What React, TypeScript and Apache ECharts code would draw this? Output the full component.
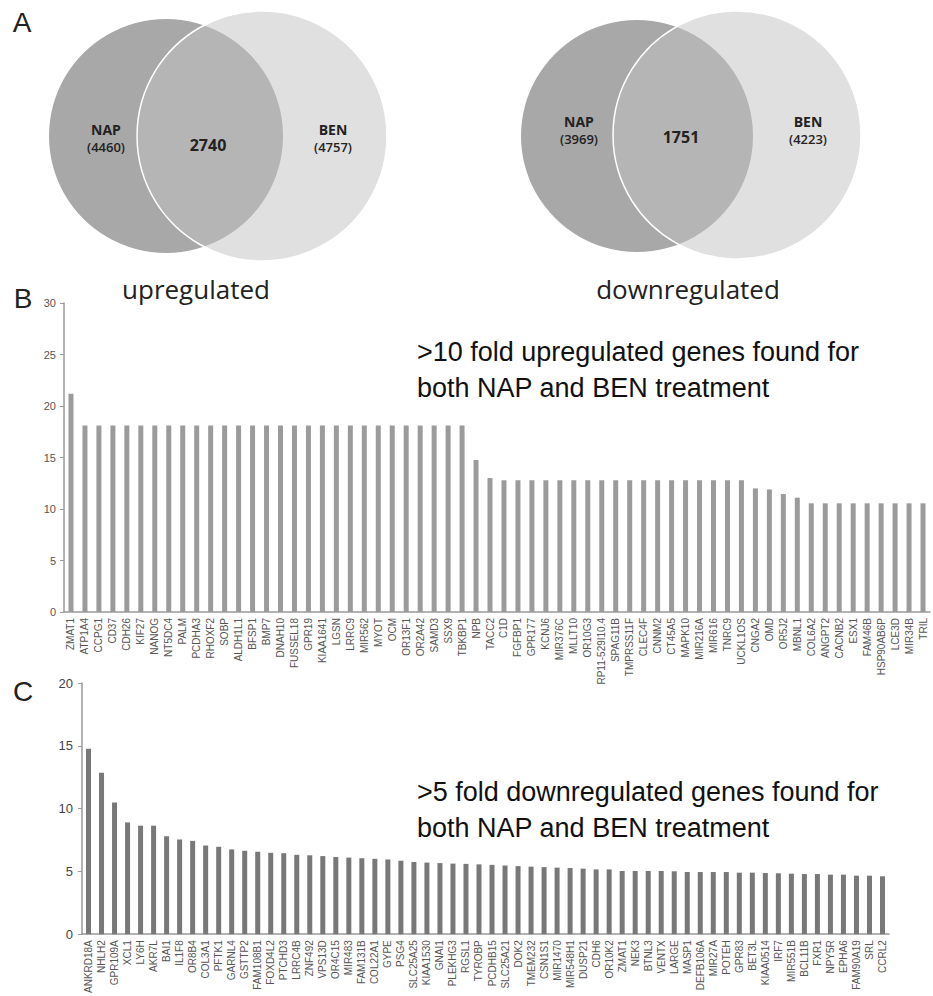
import React, { useEffect, useRef } from "react";
import * as echarts from "echarts";

const upGenes = ["ZMAT1","ATP1A4","CCPG1","CD37","CDH26","KIF27","NANOG","NT5DC4","PALM","PCDHA3","RHOXF2","SOBP","ALDH1L1","BFSP1","BMP7","DNAH10","FUSSEL18","GPR19","KIAA1641","LGSN","LRRC9","MIR562","MYOT","OCM","OR13F1","OR2A42","SAMD3","SSX9","TBKBP1","NPB","TACC2","C1D","FGFBP1","GPR177","KCNJ6","MIR376C","MLLT10","OR10G3","RP11-529I10.4","SPAG11B","TMPRSS11F","CLEC4F","CNNM2","CT45A5","MAPK10","MIR216A","MIR616","TNRC9","UCKL1OS","CNGA2","OMD","OR5J2","MBNL1","COL6A2","ANGPT2","CACNB2","ESX1","FAM46B","HSP90AB6P","LCE3D","MIR34B","TRIL"];
const upValues = [21.2,18.1,18.1,18.1,18.1,18.1,18.1,18.1,18.1,18.1,18.1,18.1,18.1,18.1,18.1,18.1,18.1,18.1,18.1,18.1,18.1,18.1,18.1,18.1,18.1,18.1,18.1,18.1,18.1,14.75,13.0,12.8,12.8,12.8,12.8,12.8,12.8,12.8,12.8,12.8,12.8,12.8,12.8,12.8,12.8,12.8,12.8,12.8,12.8,12.0,11.9,11.45,11.1,10.55,10.55,10.55,10.55,10.55,10.55,10.55,10.55,10.55];

const downGenes = ["ANKRD18A","NHLH2","GPR109A","XCL1","LY6H","AKR7L","BAI1","IL1F8","OR8B4","COL3A1","PFTK1","GARNL4","GSTTP2","FAM108B1","FOXD4L2","PTCHD3","LRRC4B","ZNF492","VPS13D","OR4C15","MIR483","FAM131B","COL22A1","GYPE","PSG4","SLC25A25","KIAA1530","GNAI1","PLEKHG3","RGSL1","TYROBP","PCDHB15","SLC25A21","DOK2","TMEM232","CSN1S1","MIR1470","MIR548H1","DUSP21","CDH6","OR10K2","ZMAT1","NEK3","BTNL3","VENTX","LARGE","MASP1","DEFB106A","MIR27A","POTEH","GPR83","BET3L","KIAA0514","IRF7","MIR551B","BCL11B","FXR1","NPY5R","EPHA6","FAM90A19","SRL","CCRL2"];
const downValues = [14.76,12.86,10.49,8.9,8.64,8.64,7.8,7.54,7.43,7.06,6.96,6.75,6.64,6.56,6.48,6.45,6.32,6.28,6.22,6.15,6.1,6.05,6.0,5.95,5.85,5.75,5.7,5.66,5.62,5.6,5.56,5.52,5.47,5.42,5.38,5.34,5.3,5.27,5.22,5.16,5.16,5.03,5.03,5.03,5.03,5.01,4.95,4.95,4.95,4.95,4.9,4.9,4.87,4.85,4.82,4.79,4.79,4.74,4.74,4.66,4.66,4.61];

const vennUp = { nap: 4460, both: 2740, ben: 4757, label: "upregulated" };
const vennDown = { nap: 3969, both: 1751, ben: 4223, label: "downregulated" };

function vennGraphics(v: any, o: any) {
  const t = (text: string, x: number, y: number, size: number, weight: string) => ({
    type: "text", x, y, z: 10,
    style: { text, fill: "#222", font: `${weight} ${size}px "Open Sans", sans-serif`, textAlign: "center", textVerticalAlign: "middle" },
  });
  return [
    { type: "circle", shape: { cx: o.nx, cy: o.ny, r: o.nr }, style: { fill: "#a8a8a8" }, z: 1 },
    { type: "circle", shape: { cx: o.bx, cy: o.by, r: o.br }, style: { fill: "rgba(193,193,193,0.5)", stroke: "#ffffff", lineWidth: 1.5 }, z: 2 },
    t("NAP", o.tnx, o.ty - 1, 14, "bold"),
    t(`(${v.nap})`, o.tnx, o.ty + 17, 13, "600"),
    t(String(v.both), o.tmx, o.ty + 15, 16, "bold"),
    t("BEN", o.tbx, o.ty - 1, 14, "bold"),
    t(`(${v.ben})`, o.tbx, o.ty + 17, 13, "600"),
    { type: "text", x: o.lx, y: 289, z: 10, style: { text: v.label, fill: "#222", font: '26px "Open Sans", sans-serif', textAlign: "center", textVerticalAlign: "middle" } },
  ];
}

export default function App() {
  const ref = useRef<HTMLDivElement>(null);
  useEffect(() => {
    const chart = echarts.init(ref.current!, null, { renderer: "svg" });
    const axisColor = "#9a9a9a";
    const panelLetter = (text: string, x: number, y: number) => ({
      type: "text", x, y, style: { text, fill: "#222", font: '28px "Liberation Sans", Arial, sans-serif', textAlign: "center", textVerticalAlign: "middle" },
    });
    const titleText = (text: string, x: number, y: number) => ({
      type: "text", x, y, style: { text, fill: "#111", font: '27px "Liberation Sans", Arial, sans-serif', textAlign: "left", textVerticalAlign: "middle" },
    });
    const option: any = {
      animation: false,
      backgroundColor: "#ffffff",
      graphic: [
        panelLetter("A", 22, 22),
        ...vennGraphics(vennUp, { nx: 166, ny: 136, nr: 117, bx: 262, by: 136, br: 125, tnx: 106, tmx: 208, tbx: 333, ty: 130, lx: 196 }),
        ...vennGraphics(vennDown, { nx: 637, ny: 136, nr: 116, bx: 737, by: 135, br: 124, tnx: 579, tmx: 681, tbx: 808, ty: 122, lx: 688 }),
        panelLetter("B", 23, 298),
        panelLetter("C", 23, 691),
        titleText(">10 fold upregulated genes found for", 417, 352),
        titleText("both NAP and BEN treatment", 417, 388),
        titleText(">5 fold downregulated genes found for", 417, 792),
        titleText("both NAP and BEN treatment", 417, 828),
      ],
      grid: [
        { left: 64, width: 866, top: 303, height: 309 },
        { left: 82, width: 807, top: 683, height: 253 },
      ],
      xAxis: [
        {
          gridIndex: 0, type: "category", data: upGenes,
          axisLine: { lineStyle: { color: axisColor, width: 1.5 } },
          axisTick: { length: 4, lineStyle: { color: axisColor } },
          axisLabel: { rotate: 90, interval: 0, fontSize: 10, color: "#555", margin: 6, fontFamily: '"Liberation Sans", Arial, sans-serif' },
        },
        {
          gridIndex: 1, type: "category", data: downGenes,
          axisLine: { lineStyle: { color: axisColor, width: 1.5 } },
          axisTick: { length: 4, lineStyle: { color: axisColor } },
          axisLabel: { rotate: 90, interval: 0, fontSize: 10, color: "#555", margin: 6, fontFamily: '"Liberation Sans", Arial, sans-serif' },
        },
      ],
      yAxis: [
        {
          gridIndex: 0, type: "value", min: 0, max: 30, interval: 5,
          splitLine: { show: false },
          axisLine: { show: true, lineStyle: { color: axisColor, width: 1.5 } },
          axisTick: { show: true, length: 4, lineStyle: { color: axisColor } },
          axisLabel: { fontSize: 11, color: "#555", margin: 8, fontFamily: '"Liberation Sans", Arial, sans-serif' },
        },
        {
          gridIndex: 1, type: "value", min: 0, max: 20, interval: 5,
          splitLine: { show: false },
          axisLine: { show: true, lineStyle: { color: axisColor, width: 1.5 } },
          axisTick: { show: true, length: 4, lineStyle: { color: axisColor } },
          axisLabel: { fontSize: 13, color: "#444", margin: 9, fontFamily: '"Liberation Sans", Arial, sans-serif' },
        },
      ],
      series: [
        { type: "bar", xAxisIndex: 0, yAxisIndex: 0, data: upValues, barWidth: 5, itemStyle: { color: "#9b9b9b" } },
        { type: "bar", xAxisIndex: 1, yAxisIndex: 1, data: downValues, barWidth: 5, itemStyle: { color: "#787878" } },
      ],
    };
    chart.setOption(option);
    return () => chart.dispose();
  }, []);
  return <div ref={ref} style={{ position: "fixed", left: 0, top: 0, width: 933, height: 996, background: "#fff" }} />;
}
